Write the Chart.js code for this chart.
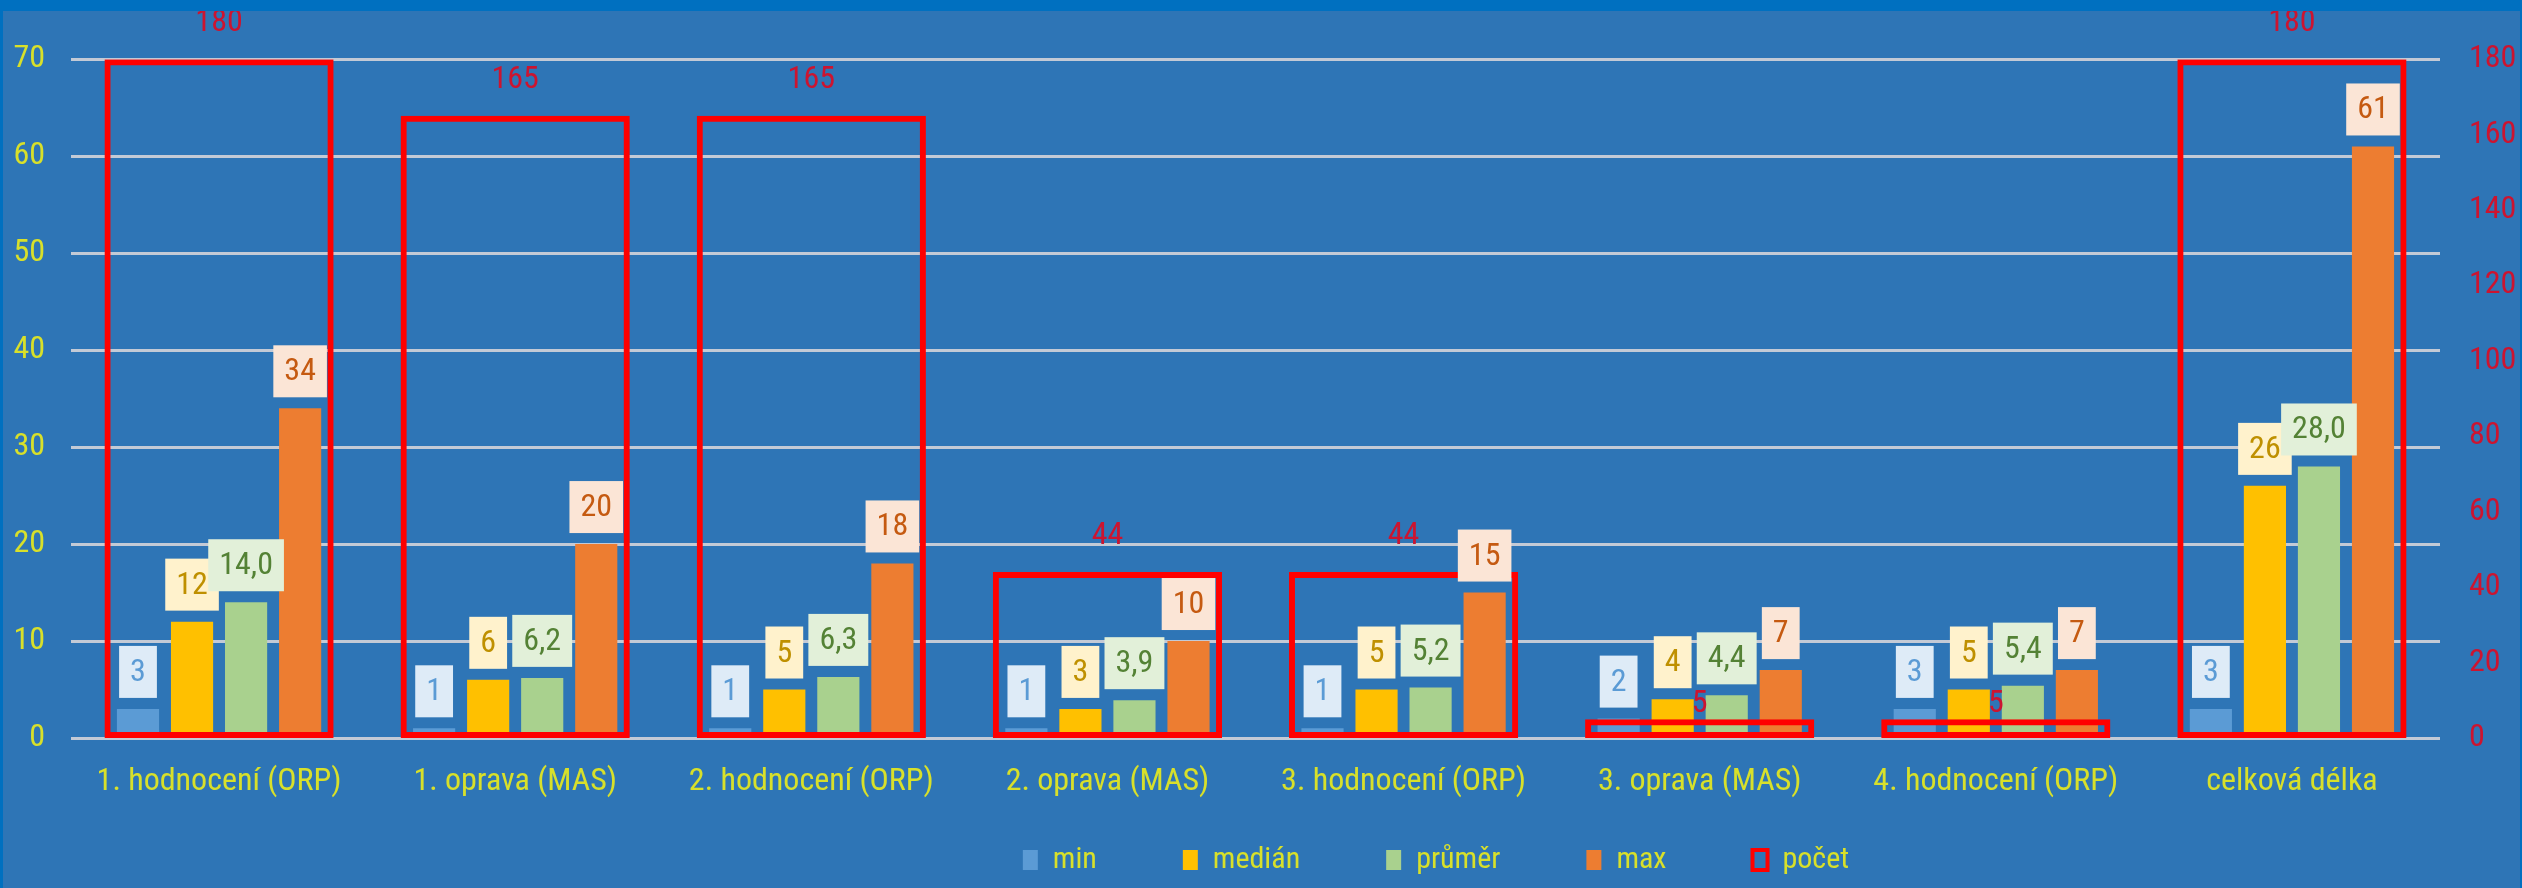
<!DOCTYPE html>
<html>
<head>
<meta charset="utf-8">
<script src="https://cdn.jsdelivr.net/npm/chart.js@4.4.1/dist/chart.umd.min.js"></script>
<style>
  html, body { margin: 0; padding: 0; background: #0070C0; }
  #wrap { position: absolute; left: 3px; top: 11px; width: 2517px; height: 877px; background: #2E75B6; }
</style>
</head>
<body>
<div id="wrap"><canvas id="chart"></canvas></div>
<script>
// Data
const categories = ['1. hodnocení (ORP)', '1. oprava (MAS)', '2. hodnocení (ORP)', '2. oprava (MAS)',
  '3. hodnocení (ORP)', '3. oprava (MAS)', '4. hodnocení (ORP)', 'celková délka'];
const minValues = [3, 1, 1, 1, 1, 2, 3, 3];
const medianValues = [12, 6, 5, 3, 5, 4, 5, 26];
const meanValues = [14.0, 6.2, 6.3, 3.9, 5.2, 4.4, 5.4, 28.0];
const maxValues = [34, 20, 18, 10, 15, 7, 7, 61];
const countValues = [180, 165, 165, 44, 44, 5, 5, 180];
const leftTicks = [0, 10, 20, 30, 40, 50, 60, 70];
const rightTicks = [0, 20, 40, 60, 80, 100, 120, 140, 160, 180];

const FONT = "'Roboto Condensed', 'DejaVu Sans Condensed', sans-serif";
const FONT_SIZE = 32;
const LEGEND_SIZE = 30;
const YELLOW = '#D8E02A';
const RED_TEXT = '#CC1430';
const GRID = '#C3CAD6';

Chart.defaults.font.family = FONT;
Chart.defaults.font.size = FONT_SIZE;

const fmtInt = v => String(v);
const fmtDec = v => v.toFixed(1).replace('.', ',');

// Value labels drawn above each bar (boxed for the four series, plain red for počet)
const valueLabels = {
    id: 'valueLabels',
    afterDatasetsDraw(chart) {
        const ctx = chart.ctx;
        ctx.save();
        ctx.font = FONT_SIZE + 'px ' + FONT;
        ctx.textAlign = 'center';
        ctx.textBaseline = 'middle';
        chart.data.datasets.forEach((ds, i) => {
            const meta = chart.getDatasetMeta(i);
            meta.data.forEach((bar, j) => {
                const text = ds.fmt(ds.data[j]);
                if (ds.labelFill) {
                    const w = ctx.measureText(text).width + 22;
                    const h = 52;
                    const bottom = bar.y - 11;
                    ctx.fillStyle = ds.labelFill;
                    ctx.fillRect(bar.x - w / 2, bottom - h, w, h);
                    ctx.fillStyle = ds.labelColor;
                    ctx.fillText(text, bar.x, bottom - h / 2 + 1);
                } else {
                    // small counts sit lower, right on the box top
                    const off = (bar.base - bar.y) < 40 ? 15 : 36;
                    ctx.fillStyle = ds.labelColor;
                    ctx.fillText(text, bar.x, bar.y - off);
                }
            });
        });
        ctx.restore();
    }
};

// Moves the legend to where it sits in the reference
const legendShift = {
    id: 'legendShift',
    afterLayout(chart) {
        const lg = chart.legend;
        const dx = 1433 - (lg.left + lg.right) / 2;
        lg.left += dx;
        lg.right += dx;
        lg.top = 849 - lg.options.labels.padding - LEGEND_SIZE / 2;
        lg.bottom = chart.height;
    }
};

const groupedBar = { categoryPercentage: 0.73, barPercentage: 0.78, order: 1, yAxisID: 'y' };

const chart = new Chart(document.getElementById('chart'), {
    type: 'bar',
    data: {
        labels: categories,
        datasets: [
            { ...groupedBar, label: 'min', data: minValues, backgroundColor: '#5B9BD5',
              fmt: fmtInt, labelFill: '#DEEBF7', labelColor: '#5B9BD5' },
            { ...groupedBar, label: 'medián', data: medianValues, backgroundColor: '#FFC000',
              fmt: fmtInt, labelFill: '#FFF2CC', labelColor: '#BF9000' },
            { ...groupedBar, label: 'průměr', data: meanValues, backgroundColor: '#A9D18E',
              fmt: fmtDec, labelFill: '#E2F0D9', labelColor: '#548235' },
            { ...groupedBar, label: 'max', data: maxValues, backgroundColor: '#ED7D31',
              fmt: fmtInt, labelFill: '#FBE5D6', labelColor: '#C55A11' },
            { label: 'počet', data: countValues, yAxisID: 'y1', grouped: false, order: 0,
              categoryPercentage: 1, barPercentage: 0.774,
              backgroundColor: 'rgba(0,0,0,0)', borderColor: '#FF0000', borderWidth: 6,
              borderSkipped: false, fmt: fmtInt, labelColor: RED_TEXT }
        ]
    },
    options: {
        responsive: true,
        maintainAspectRatio: false,
        animation: false,
        layout: { padding: { top: 48, left: 0, right: 0, bottom: 0 } },
        scales: {
            x: {
                grid: { display: false, drawTicks: false },
                border: { display: false },
                ticks: { color: YELLOW, padding: 25, maxRotation: 0, autoSkip: false },
                afterFit(scale) { scale.height = 70; }
            },
            y: {
                position: 'left',
                min: leftTicks[0],
                max: leftTicks[leftTicks.length - 1],
                afterBuildTicks(scale) { scale.ticks = leftTicks.map(v => ({ value: v })); },
                grid: { color: GRID, lineWidth: 3, drawTicks: false },
                border: { display: false },
                ticks: { color: YELLOW, padding: 26 },
                afterFit(scale) { scale.width = 68; }
            },
            y1: {
                position: 'right',
                min: rightTicks[0],
                max: rightTicks[rightTicks.length - 1],
                afterBuildTicks(scale) { scale.ticks = rightTicks.map(v => ({ value: v })); },
                grid: { display: false, drawTicks: false },
                border: { display: false },
                ticks: { color: RED_TEXT, padding: 29 },
                afterFit(scale) { scale.width = 80; }
            }
        },
        plugins: {
            tooltip: { enabled: false },
            legend: {
                position: 'bottom',
                fullSize: false,
                maxHeight: 80,
                labels: {
                    color: YELLOW,
                    font: { size: LEGEND_SIZE },
                    boxWidth: 15,
                    boxHeight: 20,
                    padding: 86,
                    sort: (a, b) => a.datasetIndex - b.datasetIndex,
                    generateLabels(chart) {
                        const items = Chart.defaults.plugins.legend.labels.generateLabels(chart);
                        items.forEach(it => { if (it.datasetIndex === 4) it.lineWidth = 4; });
                        return items;
                    }
                }
            }
        }
    },
    plugins: [valueLabels, legendShift]
});
</script>
</body>
</html>
